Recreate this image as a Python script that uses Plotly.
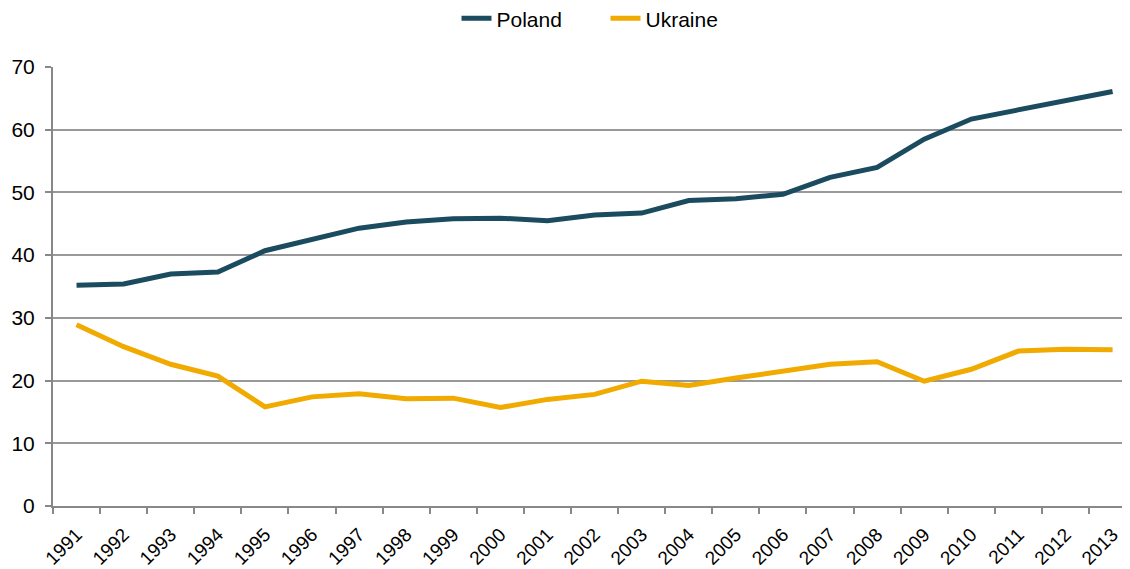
import plotly.graph_objects as go

# Data
years = [str(y) for y in range(1991, 2014)]
poland = [35.2, 35.4, 37.0, 37.3, 40.7, 42.4, 44.3, 45.3, 45.8, 45.9, 45.5, 46.4,
          46.7, 48.7, 49.0, 49.7, 52.4, 54.0, 58.5, 61.7, 63.2, 64.5, 66.1]
ukraine = [28.9, 25.4, 22.6, 20.7, 15.8, 17.4, 17.9, 17.1, 17.2, 15.7, 17.0, 17.8,
           19.9, 19.2, 20.4, 21.5, 22.6, 23.0, 19.9, 21.8, 24.7, 25.0, 24.9]
y_ticks = [0, 10, 20, 30, 40, 50, 60, 70]

fig = go.Figure()

fig.add_trace(go.Scatter(
    x=years, y=poland, name='Poland', mode='lines',
    line=dict(color='#1b4b5e', width=5),
))
fig.add_trace(go.Scatter(
    x=years, y=ukraine, name='Ukraine', mode='lines',
    line=dict(color='#f0aa00', width=5),
))

# page body has an 8px margin, so the figure is 8px smaller than the window
fig.update_layout(
    width=1122,
    height=561,
    margin=dict(l=45, r=0, t=59, b=63, autoexpand=False),
    paper_bgcolor='white',
    plot_bgcolor='white',
    font=dict(family='Liberation Sans, Arial, sans-serif', size=20, color='black'),
    legend=dict(
        orientation='h',
        xanchor='center', x=0.513,
        yanchor='middle', y=1.11,
        font=dict(size=21),
        entrywidth=104, entrywidthmode='pixels',
        tracegroupgap=0,
    ),
    showlegend=True,
)

# the last category runs past the right edge, as in the reference
fig.update_xaxes(
    type='category',
    range=[-0.5, 22.37],
    automargin=False,
    tickson='boundaries',
    ticks='outside', ticklen=6, tickwidth=2, tickcolor='#888888',
    showline=True, linecolor='#888888', linewidth=2,
    showgrid=False,
    tickangle=-45,
    ticklabelstandoff=8,
    tickfont=dict(size=19),
)
fig.update_yaxes(
    range=[0, 70],
    tickvals=y_ticks,
    automargin=False,
    ticks='outside', ticklen=6, tickwidth=2, tickcolor='#888888',
    showline=True, linecolor='#888888', linewidth=2,
    showgrid=True, gridcolor='#999999', gridwidth=1.5,
    zeroline=False,
    ticklabelstandoff=6,
    tickfont=dict(size=21),
)

fig.write_html("out.html")
